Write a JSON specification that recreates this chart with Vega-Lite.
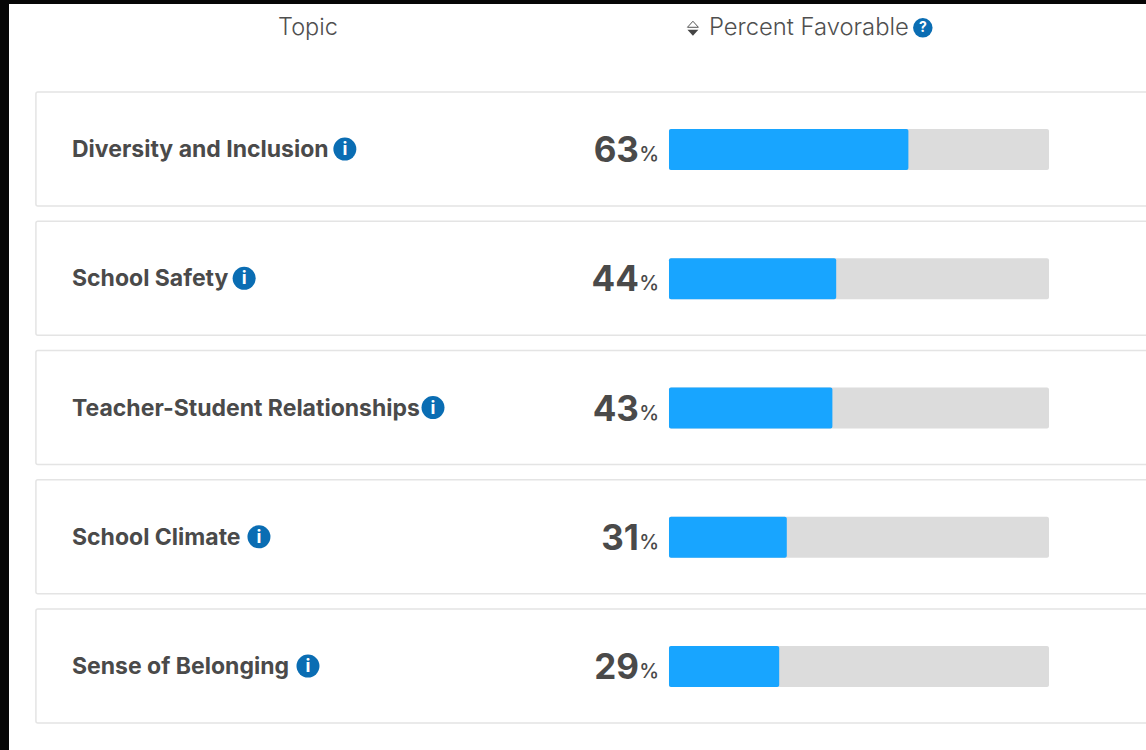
{
  "$schema": "https://vega.github.io/schema/vega-lite/v6.json",
  "width": 1137,
  "height": 746,
  "padding": {"left": 9, "top": 4, "right": 0, "bottom": 0},
  "autosize": {"type": "none"},
  "background": "#060606",
  "view": {"fill": "#ffffff", "stroke": null},
  "config": {"font": "Inter", "axis": {"disable": true}},
  "data": {
    "values": [
      {"topic": "Diversity and Inclusion", "favorable": 63, "whole": 100},
      {"topic": "School Safety", "favorable": 44, "whole": 100},
      {"topic": "Teacher-Student Relationships", "favorable": 43, "whole": 100},
      {"topic": "School Climate", "favorable": 31, "whole": 100},
      {"topic": "Sense of Belonging", "favorable": 29, "whole": 100}
    ]
  },
  "encoding": {
    "y": {
      "field": "topic",
      "type": "nominal",
      "axis": null,
      "scale": {
        "domain": ["Header", "Diversity and Inclusion", "School Safety", "Teacher-Student Relationships", "School Climate", "Sense of Belonging"],
        "range": [-48.85, 726.65],
        "paddingInner": 0.118,
        "paddingOuter": 0.059
      }
    }
  },
  "layer": [
    {
      "mark": {"type": "bar", "fill": "#ffffff", "stroke": "#e4e4e4", "strokeWidth": 1.5, "cornerRadius": 2, "clip": true},
      "encoding": {
        "x": {"datum": -166.6, "type": "quantitative", "axis": null, "scale": {"domain": [-173.68, 125.53], "range": [0, 1137], "nice": false, "zero": false}},
        "x2": {"datum": 135}
      }
    },
    {
      "mark": {"type": "bar", "fill": "#dcdcdc", "size": 41, "cornerRadius": 2, "yOffset": 0.5},
      "encoding": {"x": {"field": "whole", "type": "quantitative", "stack": null}, "x2": {"datum": 0}}
    },
    {
      "mark": {"type": "bar", "fill": "#18a5ff", "size": 41, "cornerRadius": 2, "yOffset": 0.5},
      "encoding": {"x": {"field": "favorable", "type": "quantitative", "stack": null}, "x2": {"datum": 0}}
    },
    {
      "mark": {"type": "text", "align": "left", "baseline": "middle", "dy": 1, "fontWeight": "bold", "fontSize": 23, "fill": "#4a4a4a"},
      "encoding": {"x": {"datum": -157.1, "type": "quantitative"}, "text": {"field": "topic"}}
    },
    {
      "mark": {"type": "text", "align": "right", "baseline": "alphabetic", "dy": 13, "fontWeight": "bold", "fontSize": 35, "fill": "#4a4a4a"},
      "encoding": {"x": {"datum": -7.9, "type": "quantitative"}, "text": {"field": "favorable"}}
    },
    {
      "mark": {"type": "text", "align": "right", "baseline": "alphabetic", "dy": 12, "fontSize": 20, "fontWeight": 500, "fill": "#4a4a4a", "text": "%"},
      "encoding": {"x": {"datum": -2.6, "type": "quantitative"}}
    },
    {
      "transform": [{"filter": "datum.topic === 'Diversity and Inclusion'"}],
      "encoding": {"x": {"datum": -85.3, "type": "quantitative"}},
      "layer": [
        {"mark": {"type": "point", "shape": "circle", "filled": true, "fill": "#0a6db3", "opacity": 1, "size": 529}},
        {"mark": {"type": "text", "text": "i", "fontWeight": "bold", "fontSize": 18, "fill": "#ffffff", "baseline": "middle", "dy": 1}}
      ]
    },
    {
      "transform": [{"filter": "datum.topic === 'School Safety'"}],
      "encoding": {"x": {"datum": -111.8, "type": "quantitative"}},
      "layer": [
        {"mark": {"type": "point", "shape": "circle", "filled": true, "fill": "#0a6db3", "opacity": 1, "size": 529}},
        {"mark": {"type": "text", "text": "i", "fontWeight": "bold", "fontSize": 18, "fill": "#ffffff", "baseline": "middle", "dy": 1}}
      ]
    },
    {
      "transform": [{"filter": "datum.topic === 'Teacher-Student Relationships'"}],
      "encoding": {"x": {"datum": -62.1, "type": "quantitative"}},
      "layer": [
        {"mark": {"type": "point", "shape": "circle", "filled": true, "fill": "#0a6db3", "opacity": 1, "size": 529}},
        {"mark": {"type": "text", "text": "i", "fontWeight": "bold", "fontSize": 18, "fill": "#ffffff", "baseline": "middle", "dy": 1}}
      ]
    },
    {
      "transform": [{"filter": "datum.topic === 'School Climate'"}],
      "encoding": {"x": {"datum": -107.9, "type": "quantitative"}},
      "layer": [
        {"mark": {"type": "point", "shape": "circle", "filled": true, "fill": "#0a6db3", "opacity": 1, "size": 529}},
        {"mark": {"type": "text", "text": "i", "fontWeight": "bold", "fontSize": 18, "fill": "#ffffff", "baseline": "middle", "dy": 1}}
      ]
    },
    {
      "transform": [{"filter": "datum.topic === 'Sense of Belonging'"}],
      "encoding": {"x": {"datum": -95, "type": "quantitative"}},
      "layer": [
        {"mark": {"type": "point", "shape": "circle", "filled": true, "fill": "#0a6db3", "opacity": 1, "size": 529}},
        {"mark": {"type": "text", "text": "i", "fontWeight": "bold", "fontSize": 18, "fill": "#ffffff", "baseline": "middle", "dy": 1}}
      ]
    },
    {
      "data": {"values": [{"topic": "Header"}]},
      "layer": [
        {
          "mark": {"type": "text", "text": "Topic", "align": "center", "baseline": "middle", "dy": 8, "fontSize": 23.5, "fontWeight": 300, "fill": "#4f4f4f"},
          "encoding": {"x": {"datum": -95, "type": "quantitative"}}
        },
        {
          "mark": {"type": "text", "text": "Percent Favorable", "align": "left", "baseline": "middle", "dy": 8.5, "fontSize": 23.8, "fontWeight": 300, "fill": "#4f4f4f"},
          "encoding": {"x": {"datum": 10.5, "type": "quantitative"}}
        },
        {
          "mark": {"type": "point", "shape": "M-1,0.55L0,-0.55L1,0.55Z", "filled": false, "stroke": "#555555", "strokeWidth": 1, "opacity": 1, "size": 120, "yOffset": 4.5},
          "encoding": {"x": {"datum": 6.3, "type": "quantitative"}}
        },
        {
          "mark": {"type": "point", "shape": "M-1,-0.55L0,0.55L1,-0.55Z", "filled": true, "fill": "#444444", "opacity": 1, "size": 120, "yOffset": 13},
          "encoding": {"x": {"datum": 6.3, "type": "quantitative"}}
        },
        {
          "mark": {"type": "point", "shape": "circle", "filled": true, "fill": "#0a6db3", "opacity": 1, "size": 380, "yOffset": 8},
          "encoding": {"x": {"datum": 66.8, "type": "quantitative"}}
        },
        {
          "mark": {"type": "text", "text": "?", "fontWeight": "bold", "fontSize": 14, "fill": "#ffffff", "baseline": "middle", "dy": 8.5},
          "encoding": {"x": {"datum": 66.8, "type": "quantitative"}}
        }
      ]
    }
  ]
}
